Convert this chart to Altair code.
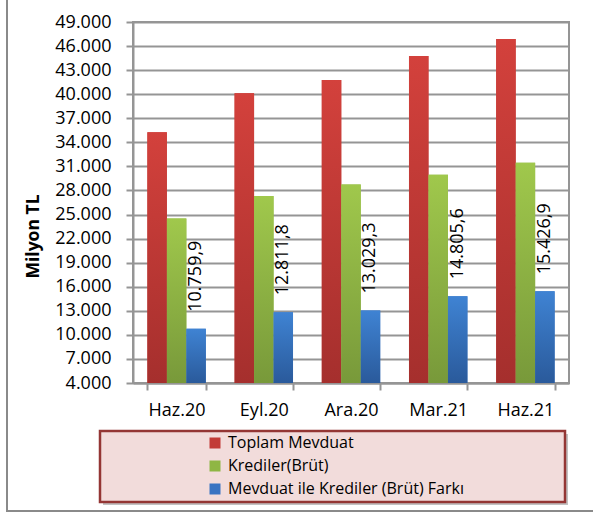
import altair as alt
import pandas as pd

# Quarter-end periods and the three series (million TL)
periods = ["Haz.20", "Eyl.20", "Ara.20", "Mar.21", "Haz.21"]
series_names = ["Toplam Mevduat", "Krediler(Brüt)", "Mevduat ile Krediler (Brüt) Farkı"]
toplam_mevduat = [35250, 40110, 41780, 44770, 46880]
krediler_brut = [24490, 27300, 28750, 29965, 31455]
mevduat_kredi_farki = [10759.9, 12811.8, 13029.3, 14805.6, 15426.9]
y_ticks = list(range(4000, 49001, 3000))

flat_colors = ["#c23b37", "#8fb644", "#3a74c2"]
gradient_colors = [("#d3413c", "#a52f2d"), ("#a0c84c", "#78993a"), ("#3f83d3", "#2a5a9b")]

FONT = "Open Sans"
GRID = "#959595"

rows = []
for name, values in zip(series_names, [toplam_mevduat, krediler_brut, mevduat_kredi_farki]):
    for period, v in zip(periods, values):
        rows.append({"period": period, "series": name, "value": v})
df = pd.DataFrame(rows)

x_enc = alt.X(
    "period:N",
    sort=periods,
    scale=alt.Scale(paddingInner=0.33, paddingOuter=0.165),
    axis=alt.Axis(
        title=None, labelAngle=0, tickBand="extent", tickSize=7, tickColor=GRID,
        tickWidth=2, domainColor=GRID, domainWidth=2, labelFont=FONT,
        labelFontSize=18, labelColor="#000", labelPadding=11, grid=False,
    ),
)
xoff_enc = alt.XOffset("series:N", sort=series_names, scale=alt.Scale(paddingInner=0, paddingOuter=0))
y_enc = alt.Y(
    "value:Q",
    scale=alt.Scale(domain=[4000, 49000], zero=False, nice=False),
    axis=alt.Axis(
        values=y_ticks,
        labelExpr="replace(format(datum.value, ',.0f'), ',', '.')",
        grid=True, gridColor=GRID, gridWidth=2, tickSize=7, tickColor=GRID,
        tickWidth=2, domainColor=GRID, domainWidth=2, labelFont=FONT,
        labelFontSize=18, labelColor="#000", labelPadding=15,
        title="Milyon TL", titleFont=FONT, titleFontSize=17.5, titleFontWeight="bold",
        titleColor="#000", titleX=-95, titleY=214, titleAngle=270,
        titleAlign="center", titleBaseline="alphabetic",
    ),
)

one_row = alt.Data(values=[{}])

# Outer frame of the chart (outline only)
frame = alt.Chart(one_row).mark_rect(fill="transparent", stroke="#8a8a8a", strokeWidth=2).encode(
    x=alt.value(-126), x2=alt.value(480), y=alt.value(-40), y2=alt.value(489)
)

# Legend panel with a soft drop shadow
legend_shadow = alt.Chart(one_row).mark_rect(fill="#9a9a9a", opacity=0.6).encode(
    x=alt.value(-30), x2=alt.value(435), y=alt.value(412), y2=alt.value(483)
)
legend_box = alt.Chart(one_row).mark_rect(fill="#f2dcdb", stroke="#943634", strokeWidth=2.5).encode(
    x=alt.value(-33), x2=alt.value(432), y=alt.value(409), y2=alt.value(480)
)

# Flat-colored bars carry the legend; gradient bars are drawn on top
legend_bars = alt.Chart(df).mark_bar().encode(
    x=x_enc, xOffset=xoff_enc, y=y_enc, y2=alt.datum(4000),
    color=alt.Color(
        "series:N", sort=series_names,
        scale=alt.Scale(domain=series_names, range=flat_colors),
        legend=alt.Legend(
            title=None, orient="none", legendX=74, legendY=413, symbolType="square",
            symbolSize=121, symbolStrokeWidth=0, labelFont=FONT, labelFontSize=16,
            labelColor="#000", rowPadding=7, labelOffset=5, padding=0, labelLimit=400,
        ),
    ),
)

gradient_layers = []
for name, (top, bottom) in zip(series_names, gradient_colors):
    grad = alt.Gradient(
        gradient="linear",
        stops=[alt.GradientStop(color=top, offset=0), alt.GradientStop(color=bottom, offset=1)],
        x1=0, x2=0, y1=0, y2=1,
    )
    gradient_layers.append(
        alt.Chart(df)
        .transform_filter(alt.datum.series == name)
        .mark_bar(color=grad)
        .encode(x=x_enc, xOffset=xoff_enc, y=y_enc, y2=alt.datum(4000))
    )

# Rotated value labels above the difference bars
labels = (
    alt.Chart(df)
    .transform_filter(alt.datum.series == series_names[2])
    .transform_calculate(
        label="replace(replace(replace(format(datum.value, ',.1f'), ',', '_'), '.', ','), '_', '.')"
    )
    .mark_text(angle=270, align="left", baseline="middle", yOffset=-17,
               font=FONT, fontSize=18, color="#000")
    .encode(x=x_enc, xOffset=xoff_enc, y=y_enc, text="label:N")
)

chart = (
    alt.layer(frame, legend_shadow, legend_box, legend_bars, *gradient_layers, labels)
    .properties(
        width=436, height=361,
        background="white",
        autosize=alt.AutoSizeParams(type="none"),
        padding={"left": 133, "top": 22, "right": 24, "bottom": 130},
    )
    .configure_view(stroke=GRID, strokeWidth=2)
)

chart.save("out.html", embed_options={"renderer": "svg", "actions": False})
